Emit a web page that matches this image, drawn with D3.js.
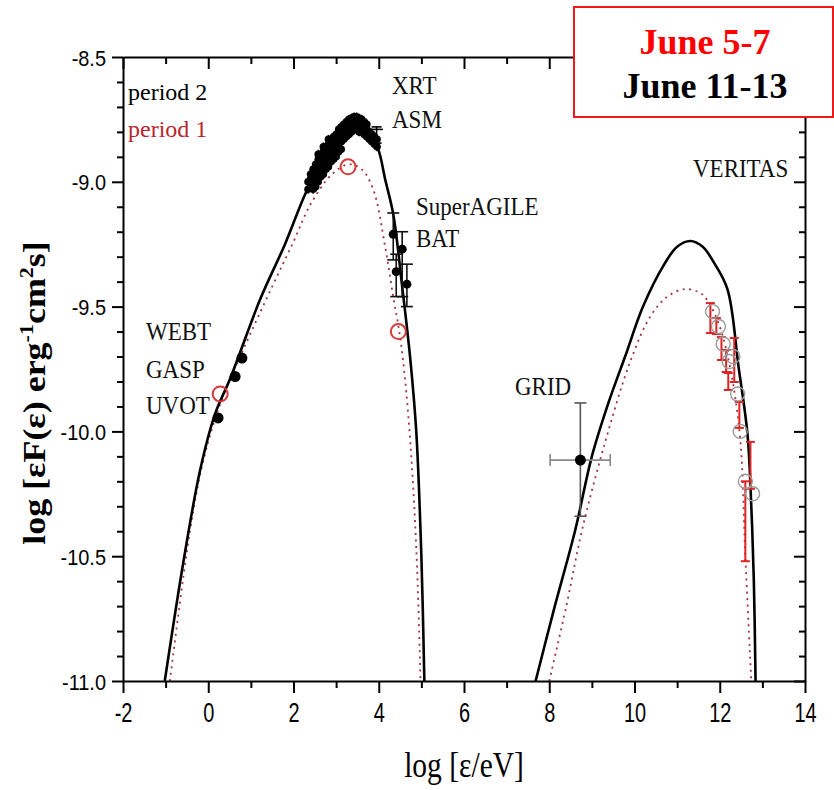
<!DOCTYPE html>
<html><head><meta charset="utf-8">
<script src="https://cdn.jsdelivr.net/npm/d3@7"></script>
<style>body{margin:0;background:#fff}</style>
</head><body>
<svg id="chart" width="834" height="790"></svg>
<script>
// ---- model curves: [log energy (eV), log nuFnu] ----
const syncPeriod2 = [[-1.02,-11.0],[-0.59,-10.53],[-0.19,-10.155],[0.16,-9.93],[0.51,-9.79],[1.22,-9.47],[1.8,-9.25],[2.3,-9.04],[2.8,-8.88],[3.2,-8.80],[3.5,-8.77],[3.75,-8.79],[3.99,-8.87],[4.15,-8.99],[4.34,-9.13],[4.55,-9.42],[4.74,-9.71],[4.88,-10.0],[5.0,-10.5],[5.07,-11.0]];
const syncPeriod1 = [[-0.9,-11.0],[-0.43,-10.40],[-0.12,-10.12],[0.3,-9.88],[0.8,-9.68],[1.5,-9.42],[2.0,-9.24],[2.4,-9.09],[2.9,-8.97],[3.3,-8.93],[3.6,-8.95],[3.87,-9.03],[4.15,-9.26],[4.34,-9.46],[4.5,-9.62],[4.65,-9.85],[4.8,-10.2],[4.9,-10.55],[4.98,-11.0]];
const icPeriod2 = [[7.68,-11.0],[8.1,-10.72],[8.61,-10.395],[9.0,-10.1],[9.4,-9.88],[9.78,-9.7],[10.2,-9.5],[10.7,-9.33],[11.0,-9.26],[11.31,-9.237],[11.6,-9.26],[11.85,-9.32],[12.18,-9.43],[12.44,-9.74],[12.65,-10.01],[12.74,-10.3],[12.8,-10.6],[12.84,-11.0]];
const icPeriod1 = [[8.0,-11.0],[8.4,-10.7],[8.77,-10.395],[9.3,-10.05],[9.9,-9.72],[10.37,-9.54],[10.77,-9.46],[11.19,-9.43],[11.54,-9.445],[11.73,-9.48],[12.0,-9.58],[12.25,-9.75],[12.48,-10.03],[12.6,-10.5],[12.74,-11.0]];

// ---- observations ----
const opticalPeriod2 = [[0.23,-9.946],[0.63,-9.78],[0.79,-9.706]];
const opticalPeriod1 = [[0.28,-9.85]];
const xrtPeriod1 = [[3.28,-8.94]];
const hardXPeriod1 = [[4.46,-9.6]];
const xrtPeriod2 = [
  [2.34,-9.03],[2.34,-9.00],[2.40,-9.02],[2.40,-8.99],[2.40,-8.97],
  [2.46,-9.03],[2.46,-9.00],[2.46,-8.97],[2.46,-8.95],[2.52,-9.02],[2.52,-8.99],[2.52,-8.96],[2.52,-8.93],
  [2.58,-9.00],[2.58,-8.97],[2.58,-8.94],[2.58,-8.91],[2.58,-8.89],[2.64,-8.98],[2.64,-8.95],[2.64,-8.92],[2.64,-8.89],
  [2.70,-8.97],[2.70,-8.94],[2.70,-8.91],[2.70,-8.88],[2.70,-8.86],[2.76,-8.95],[2.76,-8.92],[2.76,-8.89],[2.76,-8.86],
  [2.82,-8.94],[2.82,-8.91],[2.82,-8.88],[2.82,-8.85],[2.82,-8.83],[2.88,-8.92],[2.88,-8.89],[2.88,-8.86],[2.88,-8.83],
  [2.94,-8.91],[2.94,-8.88],[2.94,-8.85],[2.94,-8.82],[3.00,-8.90],[3.00,-8.87],[3.00,-8.84],[3.00,-8.81],
  [3.06,-8.88],[3.06,-8.85],[3.06,-8.82],[3.06,-8.79],[3.12,-8.87],[3.12,-8.84],[3.12,-8.81],[3.12,-8.78],
  [3.18,-8.83],[3.18,-8.80],[3.18,-8.77],[3.24,-8.82],[3.24,-8.79],[3.24,-8.76],
  [3.30,-8.81],[3.30,-8.78],[3.30,-8.75],[3.36,-8.80],[3.36,-8.77],[3.36,-8.745],
  [3.42,-8.79],[3.42,-8.76],[3.42,-8.74],[3.48,-8.79],[3.48,-8.76],[3.48,-8.74],
  [3.54,-8.80],[3.54,-8.77],[3.54,-8.745],[3.60,-8.80],[3.60,-8.77],[3.60,-8.75],
  [3.66,-8.81],[3.66,-8.78],[3.66,-8.76],[3.72,-8.82],[3.72,-8.79],[3.72,-8.77],
  [3.78,-8.83],[3.78,-8.80],[3.84,-8.84],[3.84,-8.81],[3.90,-8.85],[3.90,-8.82],
  [3.96,-8.86],[3.96,-8.83]
];
// ASM: [x, y, xLo, xHi, yLo, yHi]
const asmPoint = [3.95,-8.79,3.75,4.1,-8.845,-8.78];
// SuperAGILE / BAT: [x, y, yLo, yHi]
const batPoints = [[4.34,-9.21,-9.313,-9.125],[4.55,-9.27,-9.46,-9.2],[4.41,-9.36,-9.46,-9.29],[4.66,-9.41,-9.50,-9.33]];
// GRID: [x, y, xLo, xHi, yLo, yHi]
const gridPoint = [8.73,-10.115,8.02,9.43,-10.34,-9.886];
// VERITAS period 1 error bars: [x, yHi, yLo]
const veritasPeriod1 = [[11.78,-9.486,-9.606],[11.92,-9.546,-9.61],[12.04,-9.622,-9.714],[12.15,-9.674,-9.762],[12.20,-9.766,-9.834],[12.34,-9.626,-9.802],[12.46,-9.882,-9.986],[12.72,-10.042,-10.23],[12.60,-10.20,-10.52]];
// VERITAS period 2 points
const veritasPeriod2 = [[11.83,-9.52],[11.97,-9.58],[12.08,-9.65],[12.22,-9.72],[12.31,-9.70],[12.42,-9.85],[12.48,-10.0],[12.6,-10.2],[12.77,-10.25]];

// ---- axes ----
const xMajor = [-2,0,2,4,6,8,10,12,14];
const xMinor = [-1,1,3,5,7,9,11,13];
const xTickLabels = ["-2","0","2","4","6","8","10","12","14"];
const yMajor = [-11.0,-10.5,-10.0,-9.5,-9.0,-8.5];
const yTickLabels = ["-11.0","-10.5","-10.0","-9.5","-9.0","-8.5"];
const yMinor = d3.range(-109,-85).filter(v => v % 5 !== 0).map(v => v / 10);

// ---- labels ----
const instrumentLabels = [
  {t:"XRT", x:392, y:94}, {t:"ASM", x:392, y:128},
  {t:"SuperAGILE", x:416, y:215}, {t:"BAT", x:416, y:247},
  {t:"WEBT", x:146, y:340}, {t:"GASP", x:146, y:378}, {t:"UVOT", x:146, y:414},
  {t:"GRID", x:515, y:395}, {t:"VERITAS", x:693, y:177}
];

const svg = d3.select("#chart");
svg.append("rect").attr("width",834).attr("height",790).attr("fill","#fff");

const x = d3.scaleLinear().domain([-2,14]).range([123,805]);
const y = d3.scaleLinear().domain([-11,-8.5]).range([681,57]);

svg.append("clipPath").attr("id","plotArea").append("rect")
  .attr("x",123).attr("y",57).attr("width",682).attr("height",624);

const plot = svg.append("g").attr("clip-path","url(#plotArea)");
const line = d3.line().x(d => x(d[0])).y(d => y(d[1])).curve(d3.curveCatmullRom.alpha(0.5));

const RED_DOT = "#a3303f";
[syncPeriod1, icPeriod1].forEach(c => plot.append("path").attr("d", line(c))
  .attr("fill","none").attr("stroke",RED_DOT).attr("stroke-width",1.8).attr("stroke-dasharray","2,4.5"));
[syncPeriod2, icPeriod2].forEach(c => plot.append("path").attr("d", line(c))
  .attr("fill","none").attr("stroke","#000").attr("stroke-width",2.6));

function vbar(g, xv, y0, y1, cap, color, w) {
  g.append("line").attr("x1",x(xv)).attr("x2",x(xv)).attr("y1",y(y0)).attr("y2",y(y1)).attr("stroke",color).attr("stroke-width",w);
  [y0,y1].forEach(v => g.append("line").attr("x1",x(xv)-cap).attr("x2",x(xv)+cap).attr("y1",y(v)).attr("y2",y(v)).attr("stroke",color).attr("stroke-width",w));
}
function hbar(g, yv, x0, x1, cap, color, w) {
  g.append("line").attr("x1",x(x0)).attr("x2",x(x1)).attr("y1",y(yv)).attr("y2",y(yv)).attr("stroke",color).attr("stroke-width",w);
  [x0,x1].forEach(v => g.append("line").attr("x1",x(v)).attr("x2",x(v)).attr("y1",y(yv)-cap).attr("y2",y(yv)+cap).attr("stroke",color).attr("stroke-width",w));
}

const marks = svg.append("g");

// XRT cluster
xrtPeriod2.forEach(d => {
  marks.append("line").attr("x1",x(d[0])).attr("x2",x(d[0])).attr("y1",y(d[1]-0.018)).attr("y2",y(d[1]+0.018)).attr("stroke","#000").attr("stroke-width",1.5);
  marks.append("line").attr("x1",x(d[0]-0.04)).attr("x2",x(d[0]+0.04)).attr("y1",y(d[1])).attr("y2",y(d[1])).attr("stroke","#000").attr("stroke-width",1.5);
});
marks.selectAll("circle.xrt").data(xrtPeriod2).join("circle").attr("class","xrt")
  .attr("cx",d=>x(d[0])).attr("cy",d=>y(d[1])).attr("r",3.8).attr("fill","#000");

// ASM
hbar(marks, asmPoint[1], asmPoint[2], asmPoint[3], 0, "#000", 1.6);
vbar(marks, asmPoint[0], asmPoint[4], asmPoint[5], 5, "#000", 1.6);

// SuperAGILE / BAT
batPoints.forEach(d => vbar(marks, d[0], d[2], d[3], 6, "#111", 1.6));
marks.selectAll("circle.bat").data(batPoints).join("circle").attr("class","bat")
  .attr("cx",d=>x(d[0])).attr("cy",d=>y(d[1])).attr("r",4.5).attr("fill","#000");

// optical
marks.selectAll("circle.opt").data(opticalPeriod2).join("circle").attr("class","opt")
  .attr("cx",d=>x(d[0])).attr("cy",d=>y(d[1])).attr("r",5.5).attr("fill","#000");

// GRID
vbar(marks, gridPoint[0], gridPoint[4], gridPoint[5], 6, "#555", 1.6);
hbar(marks, gridPoint[1], gridPoint[2], gridPoint[3], 6, "#888", 1.6);
marks.append("circle").attr("cx",x(gridPoint[0])).attr("cy",y(gridPoint[1])).attr("r",5.5).attr("fill","#000");

// VERITAS
veritasPeriod1.forEach(d => vbar(marks, d[0], d[1], d[2], 4.5, "#e02222", 2));
marks.selectAll("circle.ver").data(veritasPeriod2).join("circle").attr("class","ver")
  .attr("cx",d=>x(d[0])).attr("cy",d=>y(d[1])).attr("r",7).attr("fill","none").attr("stroke","#9a9a9a").attr("stroke-width",1.4);

// period 1 open circles
marks.selectAll("circle.p1").data([...opticalPeriod1, ...xrtPeriod1, ...hardXPeriod1]).join("circle").attr("class","p1")
  .attr("cx",d=>x(d[0])).attr("cy",d=>y(d[1])).attr("r",7.5).attr("fill","none").attr("stroke","#d83a3a").attr("stroke-width",2);

// ---- frame and ticks ----
const axW = 2;
function styleAxis(g){ g.selectAll("path,line").attr("stroke","#000").attr("stroke-width",axW); }

const axisBottomG = svg.append("g").attr("transform","translate(0,681)")
  .call(d3.axisBottom(x).tickValues(xMajor).tickSize(12).tickSizeOuter(0).tickFormat((d,i)=>xTickLabels[i]));
axisBottomG.call(styleAxis);
axisBottomG.selectAll("text").attr("y",0).attr("dy",0).attr("fill","#000")
  .attr("font-family","Liberation Sans, Arial, sans-serif").attr("font-size",21)
  .attr("transform","translate(0,41) scale(0.95,1.3)");
svg.append("g").attr("transform","translate(0,681)")
  .call(d3.axisBottom(x).tickValues(xMinor).tickSize(7).tickFormat("")).call(g=>g.select(".domain").remove()).call(styleAxis);

const axisLeftG = svg.append("g").attr("transform","translate(123,0)")
  .call(d3.axisLeft(y).tickValues(yMajor).tickSize(11).tickSizeOuter(0).tickFormat((d,i)=>yTickLabels[i]));
axisLeftG.call(styleAxis);
axisLeftG.selectAll("text").attr("x",0).attr("dy",0).attr("fill","#000")
  .attr("font-family","Liberation Sans, Arial, sans-serif").attr("font-size",21)
  .attr("transform","translate(-17,8) scale(0.95,1.05)");
svg.append("g").attr("transform","translate(123,0)")
  .call(d3.axisLeft(y).tickValues(yMinor).tickSize(6).tickFormat("")).call(g=>g.select(".domain").remove()).call(styleAxis);

const axisTopG = svg.append("g").attr("transform","translate(0,57)")
  .call(d3.axisBottom(x).tickValues(xMajor).tickSize(12).tickSizeOuter(0).tickFormat(""));
axisTopG.call(styleAxis);
svg.append("g").attr("transform","translate(0,57)")
  .call(d3.axisBottom(x).tickValues(xMinor).tickSize(7).tickFormat("")).call(g=>g.select(".domain").remove()).call(styleAxis);

const axisRightG = svg.append("g").attr("transform","translate(805,0)")
  .call(d3.axisLeft(y).tickValues(yMajor).tickSize(11).tickSizeOuter(0).tickFormat(""));
axisRightG.call(styleAxis);
svg.append("g").attr("transform","translate(805,0)")
  .call(d3.axisLeft(y).tickValues(yMinor).tickSize(6).tickFormat("")).call(g=>g.select(".domain").remove()).call(styleAxis);

// ---- text ----
const serif = "Liberation Serif, Times New Roman, serif";
svg.append("text").attr("x",128).attr("y",100).attr("font-family",serif).attr("font-size",24).attr("fill","#000").text("period 2");
svg.append("text").attr("x",128).attr("y",137).attr("font-family",serif).attr("font-size",24).attr("fill","#b8262c").text("period 1");

svg.selectAll("text.inst").data(instrumentLabels).join("text").attr("class","inst")
  .attr("transform",d=>`translate(${d.x},${d.y}) scale(1,1.1)`)
  .attr("font-family",serif).attr("font-size",23).attr("fill","#111").text(d=>d.t);

// x title
svg.append("text").attr("transform","translate(464,777) scale(0.82,1)").attr("text-anchor","middle")
  .attr("font-family",serif).attr("font-size",36).attr("fill","#000").text("log [ε/eV]");

// y title
const yt = svg.append("text").attr("transform","translate(45,393) rotate(-90) scale(1.16,1)").attr("text-anchor","middle")
  .attr("font-family",serif).attr("font-weight","bold").attr("font-size",31).attr("fill","#000");
yt.append("tspan").text("log [εF(ε) erg");
yt.append("tspan").attr("font-size",19).attr("dy",-12).text("-1");
yt.append("tspan").attr("dy",12).text("cm");
yt.append("tspan").attr("font-size",19).attr("dy",-12).text("2");
yt.append("tspan").attr("dy",12).text("s]");

// period box
svg.append("rect").attr("x",574).attr("y",7).attr("width",259).attr("height",110)
  .attr("fill","#fff").attr("stroke","#f01818").attr("stroke-width",2);
svg.append("text").attr("x",705).attr("y",54).attr("text-anchor","middle").attr("font-family",serif)
  .attr("font-weight","bold").attr("font-size",36).attr("fill","#f00").text("June 5-7");
svg.append("text").attr("x",705).attr("y",98).attr("text-anchor","middle").attr("font-family",serif)
  .attr("font-weight","bold").attr("font-size",36).attr("fill","#000").text("June 11-13");
</script>
</body></html>
